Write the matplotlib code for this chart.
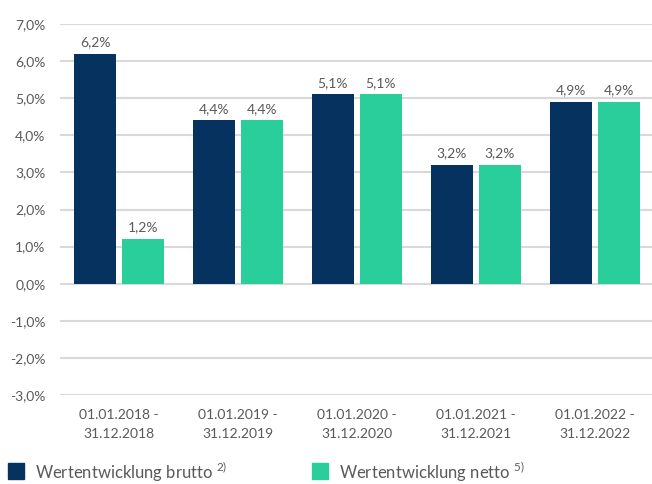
"""Wertentwicklung brutto / netto per calendar year."""

from matplotlib import pyplot
from matplotlib.patches import Rectangle
import numpy

periods = ['01.01.2018 -\n31.12.2018', '01.01.2019 -\n31.12.2019',
           '01.01.2020 -\n31.12.2020', '01.01.2021 -\n31.12.2021',
           '01.01.2022 -\n31.12.2022']
brutto = [6.2, 4.4, 5.1, 3.2, 4.9]
netto = [1.2, 4.4, 5.1, 3.2, 4.9]
yticks = numpy.arange(-3, 8, 1)
legend_labels = ['Wertentwicklung brutto $^{2)}$',
                 'Wertentwicklung netto $^{5)}$']

navy = '#06325F'
green = '#2ACE9A'
grey = '#595959'

pyplot.rc('font', family=['Lato', 'DejaVu Sans'], size=10)
pyplot.rc('mathtext', fontset='custom', rm='Lato', it='Lato')

W, H = 652, 484
fig = pyplot.figure(figsize=(W / 100, H / 100), dpi=100)
ax = fig.add_axes([59.5 / W, 1 - 395 / H, 1 - 59.5 / W, 371 / H])

x = numpy.arange(len(periods))
width = 0.353
offset = (width + 0.05) / 2
bars_b = ax.bar(x - offset, brutto, width, color=navy, zorder=3)
bars_n = ax.bar(x + offset, netto, width, color=green, zorder=3)

for bars in (bars_b, bars_n):
    for bar in bars:
        h = bar.get_height()
        ax.annotate(f'{h:.1f}%'.replace('.', ','),
                    (bar.get_x() + bar.get_width() / 2, h),
                    xytext=(0, 4), textcoords='offset points',
                    ha='center', va='bottom', color=grey, fontsize=10)

ax.set_ylim(-3, 7)
ax.set_yticks(yticks)
ax.set_yticklabels([f'{v:.1f}%'.replace('.', ',') for v in yticks])
ax.set_xlim(-0.5, 4.48)
ax.set_xticks(x)
ax.set_xticklabels(periods, linespacing=1.7)
ax.tick_params(length=0, colors=grey, labelsize=10)
ax.tick_params(axis='x', pad=10)
ax.tick_params(axis='y', pad=10)
ax.yaxis.grid(True, color='#D9D9D9', linewidth=1.5, zorder=0)
for spine in ax.spines.values():
    spine.set_visible(False)

# Legend drawn by hand to match the original placement.
for xpos, color, label in zip((8, 312), (navy, green), legend_labels):
    fig.patches.append(Rectangle((xpos / W, 1 - 479 / H), 16 / W, 16 / H,
                                 transform=fig.transFigure, color=color))
    fig.text((xpos + 27) / W, 1 - 472 / H, label, color=grey,
             fontsize=12, va='center', ha='left')

fig.savefig('out.png', dpi=100)
